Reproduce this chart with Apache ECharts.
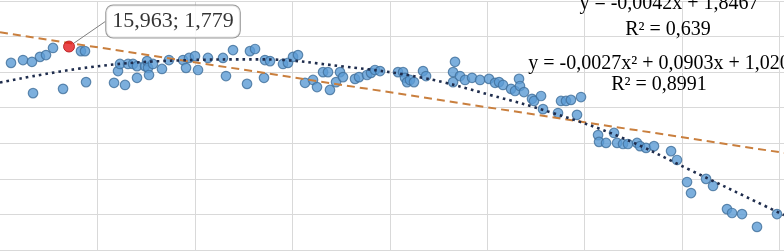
<!DOCTYPE html>
<html><head><meta charset="utf-8">
<script src="https://cdn.jsdelivr.net/npm/echarts@6/dist/echarts.min.js"></script>
<style>html,body{margin:0;padding:0;background:#fff}#c{width:784px;height:252px}</style>
</head><body><div id="c"></div>
<script>
// scatter values (x, y)
const pointsX = [10.01,11.24,12.16,12.98,13.60,14.32,17.19,17.60,12.27,15.35,17.71,20.58,21.71,20.99,21.19,22.02,22.53,22.94,22.94,23.76,23.97,24.07,24.17,24.58,25.50,26.22,27.66,27.97,28.28,28.89,29.20,30.22,31.76,32.07,32.79,34.23,34.53,35.05,35.97,36.07,36.59,37.92,38.43,38.95,39.46,40.18,41.00,41.41,42.03,42.54,42.74,43.36,43.77,44.08,45.31,45.72,46.54,46.95,47.36,47.88,49.72,50.24,50.44,50.65,50.95,51.36,52.29,52.60,55.57,55.37,55.37,56.08,56.60,57.32,58.14,59.06,59.68,60.09,60.50,61.32,61.73,62.14,62.24,62.65,63.47,63.68,64.40,64.60,66.14,66.45,66.96,67.47,68.50,68.09,70.25,70.35,71.07,71.89,72.20,72.81,73.32,74.25,74.56,75.17,75.99,77.74,78.35,79.38,79.79,81.33,82.05,83.48,84.00,85.02,86.56,88.61];
const pointsY = [1.733,1.741,1.736,1.750,1.755,1.775,1.766,1.766,1.648,1.660,1.679,1.677,1.671,1.710,1.730,1.730,1.730,1.724,1.691,1.724,1.738,1.719,1.699,1.730,1.716,1.741,1.741,1.719,1.747,1.752,1.713,1.747,1.747,1.696,1.769,1.674,1.766,1.772,1.691,1.741,1.738,1.730,1.733,1.750,1.755,1.677,1.685,1.665,1.707,1.707,1.657,1.679,1.707,1.693,1.688,1.693,1.699,1.705,1.713,1.710,1.707,1.707,1.691,1.679,1.685,1.679,1.710,1.696,1.736,1.707,1.679,1.696,1.685,1.691,1.685,1.688,1.677,1.679,1.671,1.660,1.654,1.688,1.668,1.651,1.632,1.626,1.640,1.603,1.592,1.626,1.626,1.629,1.637,1.587,1.530,1.511,1.508,1.536,1.508,1.505,1.505,1.508,1.499,1.494,1.499,1.485,1.460,1.398,1.367,1.407,1.387,1.322,1.311,1.308,1.272,1.308];
// highlighted point
const highlightPoint = [15.963, 1.779];
// linear trendline
const linearTrendX = [8.88, 89.33];
const linearTrendY = [1.819, 1.480];
// polynomial trendline
const polyTrendX = [8.88,18.12,27.35,35.56,44.08,52.29,59.16,65.63,72.50,79.69,87.59,89.33];
const polyTrendY = [1.678,1.721,1.740,1.743,1.723,1.691,1.643,1.592,1.525,1.432,1.328,1.305];
// equation labels
const linearLabel = ['y = -0,0042x + 1,8467', 'R² = 0,639'];
const polyLabel = ['y = -0,0027x² + 0,0903x + 1,020', 'R² = 0,8991'];

const zip = (a, b) => a.map((v, i) => [v, b[i]]);
const fmt = v => v.toFixed(3).replace('.', ',');
const serif = "'Liberation Serif', 'Times New Roman', serif";

const chart = echarts.init(document.getElementById('c'), null, {renderer: 'canvas'});
chart.setOption({
  animation: false,
  backgroundColor: '#ffffff',
  grid: {left: 0, right: 0, top: 1, bottom: 2, containLabel: false},
  xAxis: {
    type: 'value', min: 8.88, max: 89.33, interval: 10,
    axisLine: {show: false}, axisTick: {show: false}, axisLabel: {show: false},
    splitLine: {show: true, showMinLine: false, showMaxLine: false, lineStyle: {color: '#d9d9d9', width: 1}}
  },
  yAxis: {
    type: 'value', min: 1.207, max: 1.907, interval: 0.1,
    axisLine: {show: false}, axisTick: {show: false}, axisLabel: {show: false},
    splitLine: {show: true, lineStyle: {color: '#d9d9d9', width: 1}}
  },
  series: [
    {
      type: 'scatter', data: zip(pointsX, pointsY), symbolSize: 9.5,
      itemStyle: {color: '#5b9bd5', borderColor: '#41719c', borderWidth: 1.2},
      z: 2
    },
    {
      type: 'line', data: zip(linearTrendX, linearTrendY), showSymbol: false, symbol: 'none',
      lineStyle: {color: '#c97f3e', width: 2, type: [8, 5]}, z: 3, silent: true
    },
    {
      type: 'line', data: zip(polyTrendX, polyTrendY), showSymbol: false, symbol: 'none', smooth: 0.4,
      lineStyle: {color: '#1f2d4d', width: 2.6, type: [2.6, 4]}, z: 3, silent: true
    },
    {
      type: 'scatter', data: [highlightPoint], symbolSize: 11,
      itemStyle: {color: '#e3191c', borderColor: '#b01214', borderWidth: 1},
      label: {
        show: true, position: 'inside',
        formatter: p => fmt(p.value[0]) + '; ' + fmt(p.value[1]),
        fontFamily: serif, fontSize: 22, color: '#000',
        backgroundColor: '#ffffff', borderColor: '#808080', borderWidth: 1, borderRadius: 7,
        padding: [6, 6, 4, 6]
      },
      labelLayout: {dx: 104, dy: -25},
      labelLine: {show: true, lineStyle: {color: '#808080', width: 1}},
      z: 5
    }
  ],
  graphic: [
    {type: 'text', x: 669, y: 4, z: 10, style: {text: linearLabel[0], font: '20px ' + serif, fill: '#000', textAlign: 'center', textVerticalAlign: 'middle'}},
    {type: 'text', x: 668, y: 29.5, z: 10, style: {text: linearLabel[1], font: '20px ' + serif, fill: '#000', textAlign: 'center', textVerticalAlign: 'middle'}},
    {type: 'text', x: 659, y: 63.5, z: 10, style: {text: polyLabel[0], font: '20px ' + serif, fill: '#000', textAlign: 'center', textVerticalAlign: 'middle'}},
    {type: 'text', x: 659, y: 84.5, z: 10, style: {text: polyLabel[1], font: '20px ' + serif, fill: '#000', textAlign: 'center', textVerticalAlign: 'middle'}}
  ]
});
</script></body></html>
